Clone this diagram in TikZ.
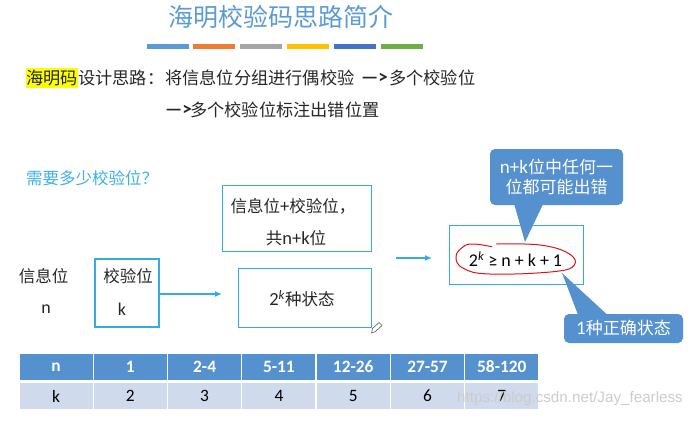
\documentclass[tikz,border=0pt]{standalone}
\usepackage{fontspec}
\setmainfont{Noto Sans CJK SC}
\newfontfamily\latfont[Scale=1.12]{Carlito}
\newfontfamily\markfont{Liberation Sans}
\newcommand{\lat}[1]{{\latfont #1}}
\usetikzlibrary{positioning,arrows.meta}

\definecolor{titleblue}{HTML}{5B9BD5}
\definecolor{askblue}{HTML}{3DB0E8}
\definecolor{boxblue}{HTML}{35ABE6}
\definecolor{calloutblue}{HTML}{5590CF}
\definecolor{rowblue}{HTML}{CFDAEC}
\definecolor{markyellow}{HTML}{FFFF00}
\definecolor{penred}{HTML}{D8141C}

\tikzset{
	body/.style={inner sep=0pt,text=black!85,font=\fontsize{16.5}{16.5}\selectfont},
	line/.style={body,anchor=west,font=\fontsize{17.2}{17.2}\selectfont},
	infobox/.style={draw=boxblue,line width=0.9pt,fill=white,inner sep=0pt},
	bluearrow/.style={draw=boxblue,line width=1.4pt,-{Latex[length=7pt,width=6pt]}},
	bubble/.style={fill=calloutblue,rounded corners=5pt,inner sep=0pt,text=white,align=center,font=\fontsize{17}{20}\selectfont},
	headcell/.style={fill=calloutblue,text=white,inner sep=0pt,minimum width=73pt,minimum height=26.5pt,font=\latfont\bfseries\fontsize{15.5}{15.5}\selectfont},
	rowcell/.style={fill=rowblue,text=black,inner sep=0pt,minimum width=73pt,minimum height=26.5pt,font=\latfont\fontsize{15.5}{15.5}\selectfont},
}

\begin{document}
\begin{tikzpicture}[x=1pt,y=-1pt]

	\useasboundingbox (0,0) rectangle (700,420);

	%%%%%%%%%%%%%%%%%%%%%%%%%%%%%%%%%%%%%%%%%%%%%%%%%%%%%%

	\node [inner sep=0pt,text=titleblue,font=\fontsize{25}{25}\selectfont] (title) at (280.5,17) {海明校验码思路简介};

	\foreach \barx/\barcolor [count=\i] in {147/5B9BD5,193/ED7D31,240/A5A5A5,287/FFC000,334/4472C4,381/70AD47} {
		\definecolor{barfill}{HTML}{\barcolor}
		\fill [barfill] (\barx,44) rectangle (\barx+42,49);
	}

	%%%%%%%%%%%%%%%%%%%%%%%%%%%%%%%%%%%%%%%%%%%%%%%%%%%%%%

	\node [line,fill=markyellow,minimum height=20pt] (mark) at (26,78) {海明码};
	\node [line,right=0pt of mark] (idea) {设计思路：};
	\node [line] (group) at (165,78) {将信息位分组进行偶校验};
	\node [line,font=\latfont\bfseries\fontsize{17}{17}\selectfont] (then-a) at (361,78) {—>};
	\node [line] (many) at (389,78) {多个校验位};
	\node [line,font=\latfont\bfseries\fontsize{17}{17}\selectfont] (then-b) at (165,110) {—>};
	\node [line] (mark-pos) at (190,110) {多个校验位标注出错位置};

	\node [inner sep=0pt,anchor=west,text=askblue,font=\fontsize{16.5}{16.5}\selectfont] (ask) at (26,178) {需要多少校验位？};

	%%%%%%%%%%%%%%%%%%%%%%%%%%%%%%%%%%%%%%%%%%%%%%%%%%%%%%

	\node [body] (info-label) at (43.5,276) {信息位};
	\node [body,font=\latfont\fontsize{16}{16}\selectfont] (info-n) at (46,309) {n};

	\node [draw=boxblue,line width=2.3pt,minimum width=64pt,minimum height=68pt] (check-box) at (127,293) {};
	\node [body] (check-label) at (128,276) {校验位};
	\node [body,font=\latfont\fontsize{16}{16}\selectfont] (check-k) at (122,309) {k};

	\node [infobox,minimum width=149pt,minimum height=66pt] (total-box) at (296.5,218) {};
	\node [body] (total-a) at (293,206) {信息位\lat{+}校验位，};
	\node [body] (total-b) at (296,238) {共\lat{n+k}位};

	\node [infobox,minimum width=133pt,minimum height=59pt] (state-box) at (304.5,297.5) {};
	\node [body] (state) at (302,299) {\lat{2\textsuperscript{\textit{k}}}种状态};

	\coordinate (arrow-a) at (222,294);
	\draw [bluearrow] (check-box.east |- arrow-a) -- (arrow-a);
	\coordinate (arrow-b-start) at (396,258);
	\coordinate (arrow-b-end) at (432,258);
	\draw [bluearrow] (arrow-b-start) -- (arrow-b-end);

	%%%%%%%%%%%%%%%%%%%%%%%%%%%%%%%%%%%%%%%%%%%%%%%%%%%%%%

	\node [infobox,minimum width=134pt,minimum height=59pt] (formula-box) at (516,254.5) {};
	\node [inner sep=0pt,font=\latfont\fontsize{16}{16}\selectfont] (formula) at (515.5,259) {2\textsuperscript{\textit{k}} ≥ n + k + 1};

	\draw [penred,line width=1pt,line cap=round] plot [smooth,tension=0.7] coordinates {(496.7,244) (540,245) (568.3,253.3) (574.3,265) (553.3,271.7) (490,274) (463.3,268.3) (456,256.7) (463.3,246.7) (473.3,244) (491.7,246.7)};

	\fill [calloutblue] (513,200) -- (525,242) -- (545,200) -- cycle;
	\node [bubble,minimum width=133pt,minimum height=56pt] (any-bit) at (556.5,177) {\lat{n+k}位中任何一\\位都可能出错};

	\fill [calloutblue] (580,320) -- (562,273) -- (613,320) -- cycle;
	\node [bubble,minimum width=119pt,minimum height=29pt] (one-right) at (623.5,328.5) {\lat{1}种正确状态};

	%%%%%%%%%%%%%%%%%%%%%%%%%%%%%%%%%%%%%%%%%%%%%%%%%%%%%%

	\filldraw [fill=white,draw=black!65,line width=0.6pt,line join=round] (371.5,333) -- (372.5,328.5) -- (379,322.5) -- (382,325.5) -- (375.5,331.5) -- cycle;

	%%%%%%%%%%%%%%%%%%%%%%%%%%%%%%%%%%%%%%%%%%%%%%%%%%%%%%

	\foreach \topval/\botval [count=\i] in {n/k,1/2,2-4/3,5-11/4,12-26/5,27-57/6,58-120/7} {
		\node [headcell] (head-\i) at (56+74.3*\i-74.3,367) {\topval};
		\node [rowcell] (row-\i) at (56+74.3*\i-74.3,396) {\botval};
	}

	\node [inner sep=0pt,anchor=west,text=black!20,font=\markfont\fontsize{15.2}{15.2}\selectfont] (watermark) at (457,399) {https://blog.csdn.net/Jay\_fearless};

\end{tikzpicture}
\end{document}
